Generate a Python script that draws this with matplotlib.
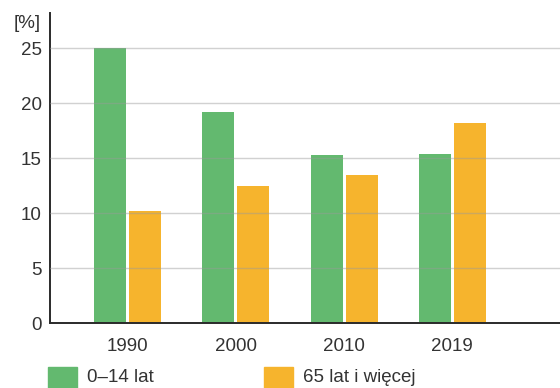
import matplotlib
matplotlib.use("Agg")
import matplotlib.pyplot as plt
from matplotlib.patches import Rectangle
import numpy as np

years = ["1990", "2000", "2010", "2019"]
young = [25.0, 19.2, 15.3, 15.4]      # 0–14 lat
old = [10.2, 12.5, 13.5, 18.2]        # 65 lat i więcej
yticks = [0, 5, 10, 15, 20, 25]
series_labels = ["0–14 lat", "65 lat i więcej"]

GREEN = "#63b96f"
ORANGE = "#f6b42d"
TEXT = "#333333"

plt.rcParams["font.family"] = ["Liberation Sans", "DejaVu Sans"]

fig = plt.figure(figsize=(5.6, 3.88), dpi=100)
ax = fig.add_axes([50 / 560, 65 / 388, 510 / 560, 310 / 388])

x = np.arange(len(years))
w = 0.295
off = 0.1616
ax.bar(x - off, young, width=w, color=GREEN, zorder=2)
ax.bar(x + off, old, width=w, color=ORANGE, zorder=2)

ax.set_xlim(-0.716, 3.994)
ax.set_ylim(0, 28.2)
ax.set_yticks(yticks)
ax.set_xticks(x)
ax.set_xticklabels(years)
ax.tick_params(axis="both", length=0, labelsize=13.5, colors=TEXT)
ax.tick_params(axis="x", pad=11)
ax.tick_params(axis="y", pad=6)

for v in yticks[1:]:
    ax.axhline(v, color="#9a9a9a", lw=1.0, alpha=0.45, zorder=3)

for s in ["top", "right"]:
    ax.spines[s].set_visible(False)
for s in ["left", "bottom"]:
    ax.spines[s].set_color("#2a2a2a")
    ax.spines[s].set_linewidth(1.4)
ax.spines["bottom"].set_zorder(4)

fig.text(27 / 560, 1 - 23 / 388, "[%]", ha="center", va="center",
         fontsize=13.5, color=TEXT)

# legend swatches and labels along the bottom edge
for xs, xt, col, lab in [(48, 87, GREEN, series_labels[0]),
                         (264, 303, ORANGE, series_labels[1])]:
    fig.add_artist(Rectangle((xs / 560, 0), 29 / 560, 21 / 388,
                             transform=fig.transFigure, color=col))
    fig.text(xt / 560, 1 - 377 / 388, lab, ha="left", va="center",
             fontsize=13.5, color=TEXT)

fig.savefig("out.png", dpi=100)
